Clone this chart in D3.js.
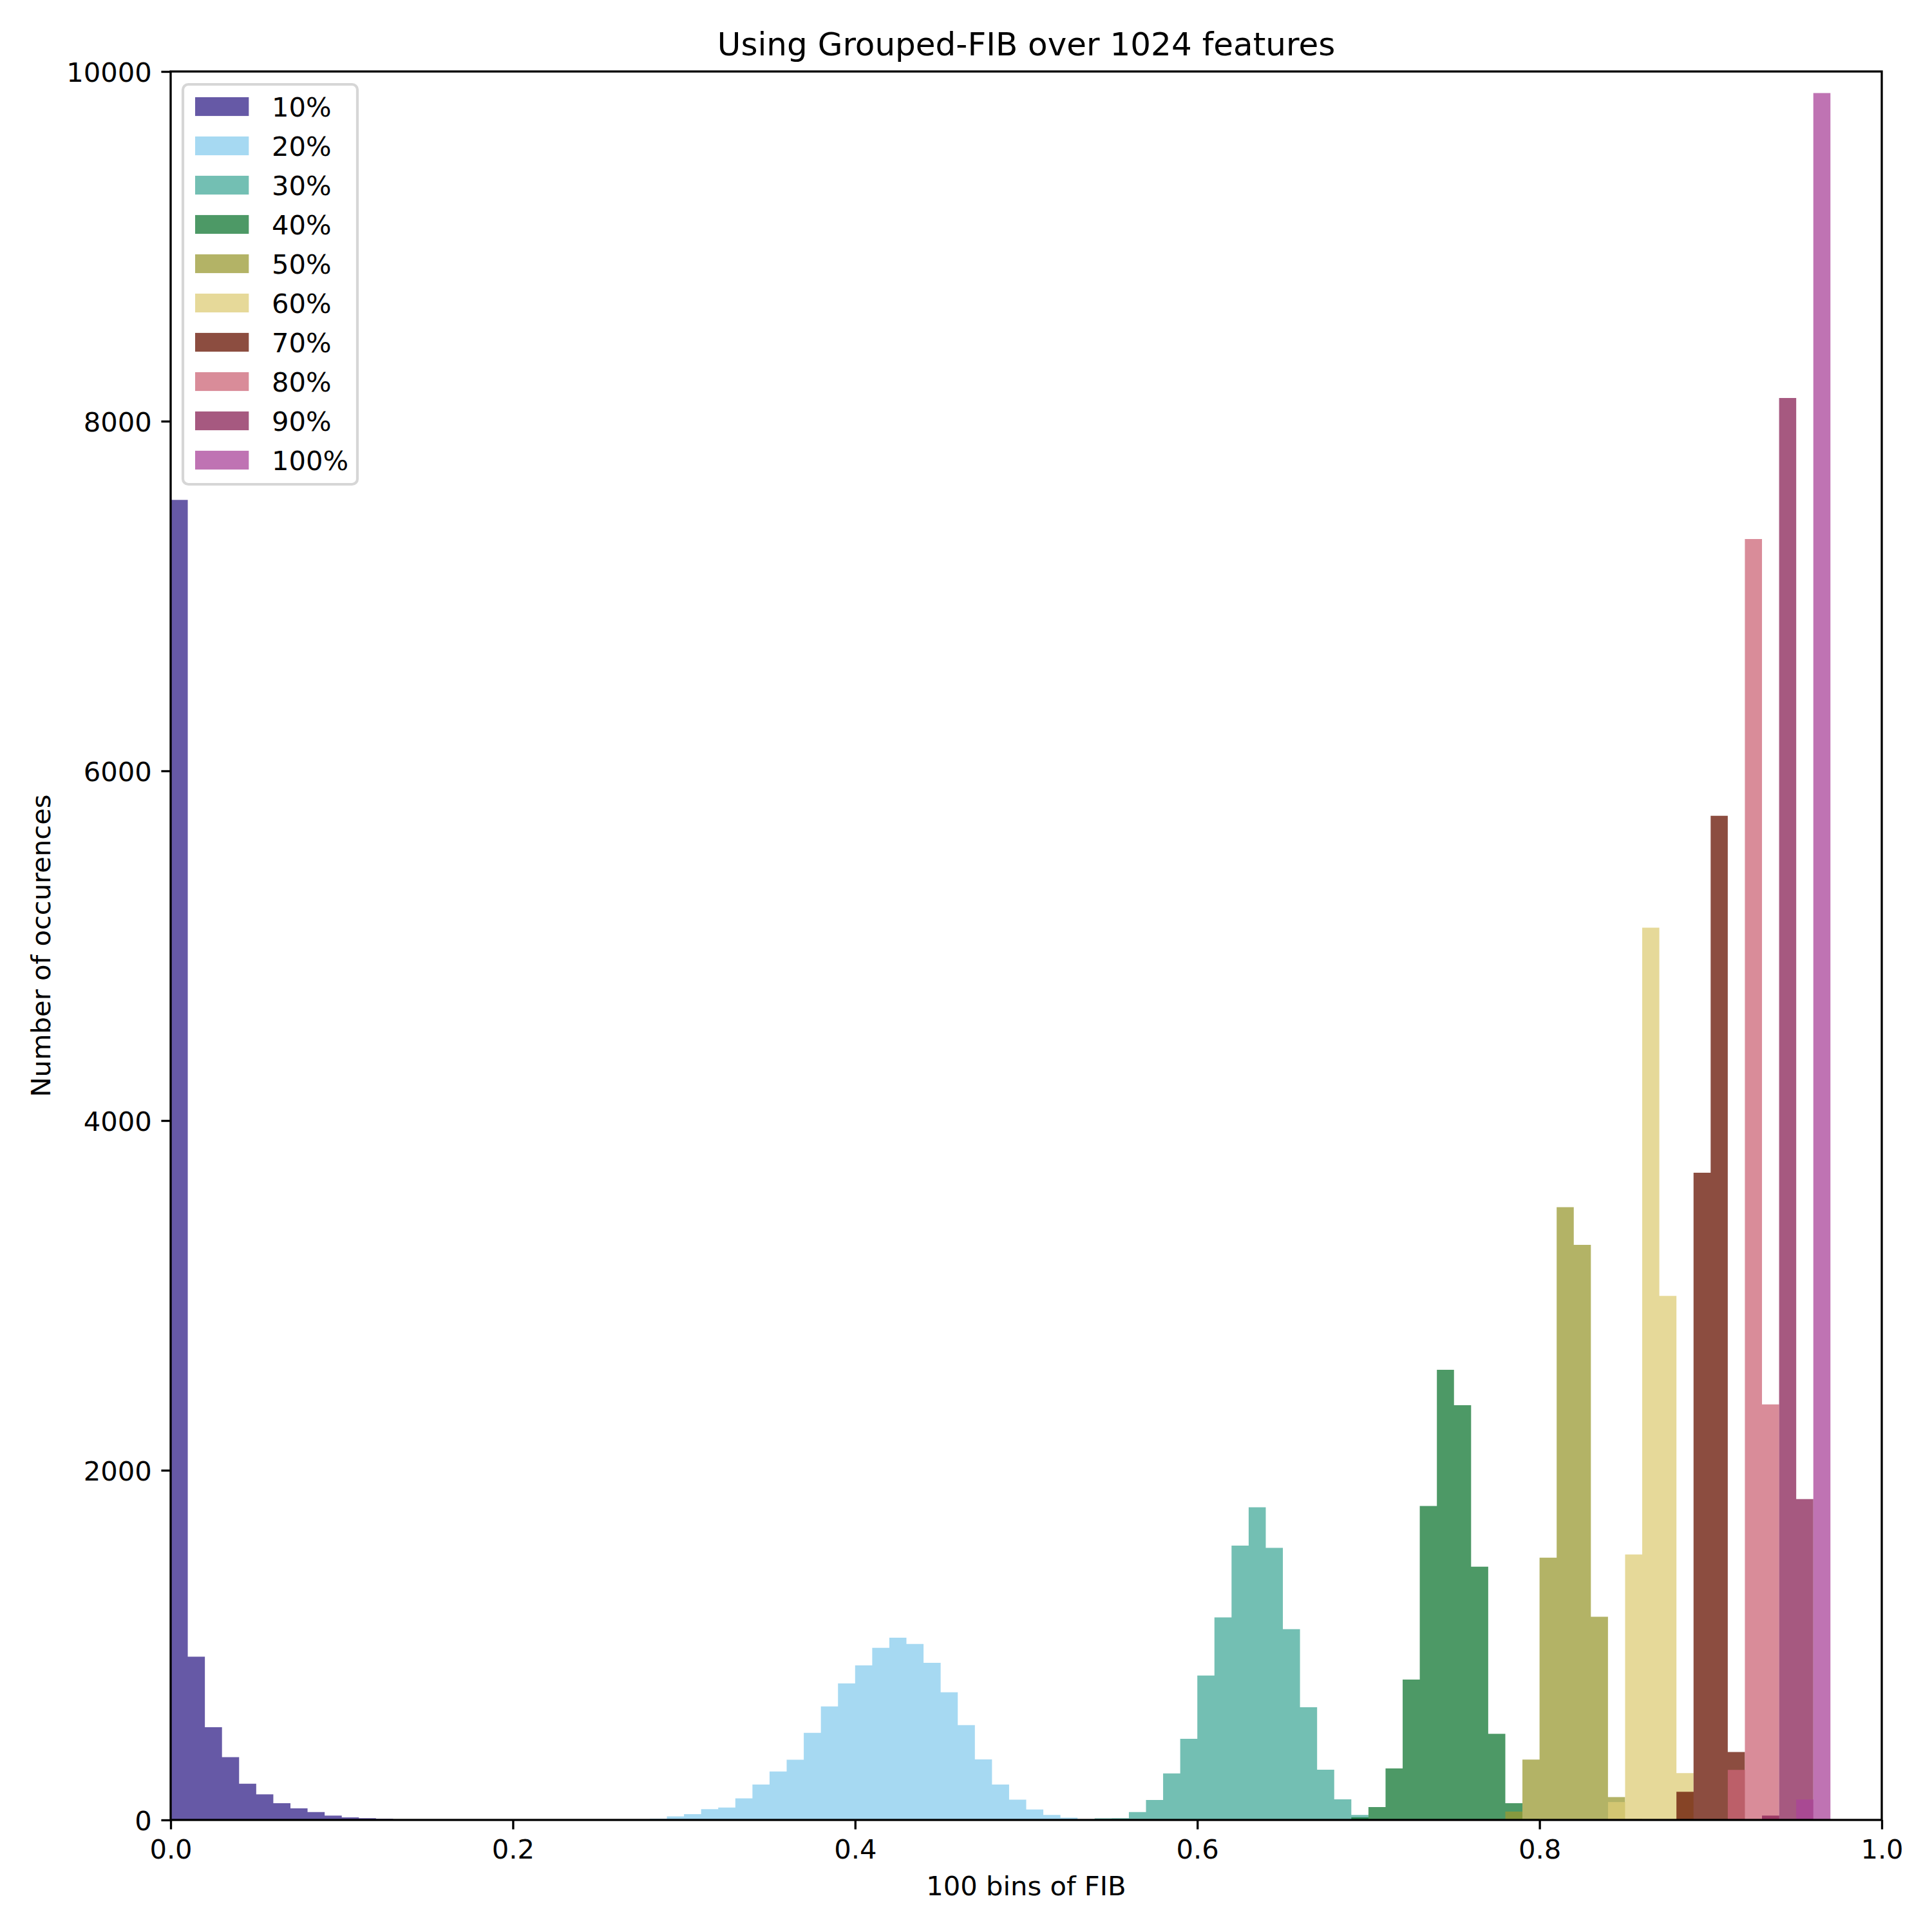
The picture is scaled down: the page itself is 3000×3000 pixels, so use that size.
<!DOCTYPE html>
<html>
<head>
<meta charset="utf-8">
<script src="https://cdn.jsdelivr.net/npm/d3@7"></script>
<style>
  html, body { margin: 0; padding: 0; background: #ffffff; }
  svg { display: block; }
  text { font-family: "DejaVu Sans", sans-serif; fill: #000; }
</style>
</head>
<body>
<svg id="chart" width="3000" height="3000"></svg>
<script>
// ---------------- DATA ----------------
const titleText = "Using Grouped-FIB over 1024 features";
const xLabelText = "100 bins of FIB";
const yLabelText = "Number of occurences";

const seriesLabels = ["10%", "20%", "30%", "40%", "50%", "60%", "70%", "80%", "90%", "100%"];
const seriesColors = ["#332288", "#88CCEE", "#44AA99", "#117733", "#999933",
                      "#DDCC77", "#661100", "#CC6677", "#882255", "#AA4499"];

// first bin (left edge) of each series' non-empty run of 0.01-wide bins
const seriesStarts = [0.00, 0.28, 0.54, 0.69, 0.77, 0.84, 0.88, 0.91, 0.93, 0.95];

const counts10 = [7550, 934, 530, 359, 207, 146, 96, 66, 45, 25, 15, 10, 6, 4];
const counts20 = [7, 20, 33, 62, 71, 123, 203, 277, 344, 498, 649, 781, 884, 984,
                  1042, 1006, 899, 730, 542, 346, 203, 116, 60, 29, 13, 4];
const counts30 = [9, 10, 45, 114, 266, 464, 826, 1158, 1569, 1788, 1556, 1091, 645, 287, 118, 29];
const counts40 = [15, 74, 295, 803, 1796, 2575, 2372, 1448, 493, 96, 6];
const counts50 = [5, 48, 345, 1500, 3505, 3289, 1162, 131, 6];
const counts60 = [102, 1518, 5103, 2997, 268];
const counts70 = [161, 3702, 5743, 389];
const counts80 = [286, 7326, 2377];
const counts90 = [25, 8133, 1835];
const counts100 = [117, 9877];

const seriesCounts = [counts10, counts20, counts30, counts40, counts50,
                      counts60, counts70, counts80, counts90, counts100];

const xTicks = [0, 0.2, 0.4, 0.6, 0.8, 1.0];
const yTicks = [0, 2000, 4000, 6000, 8000, 10000];
const binWidth = 0.01;

// ---------------- LAYOUT ----------------
const W = 3000, H = 3000;
const plotLeft = 265, plotRight = 2922, plotTop = 111, plotBottom = 2826;
const px = 300 / 72;           // points -> pixels at 300 dpi
const fs = 10 * px;            // 10pt
const lw = 0.8 * px;           // axes line width
const tickLen = 3.5 * px;
const tickPad = 3.5 * px;
const barAlpha = 0.75;

const svg = d3.select("#chart");
svg.append("rect").attr("width", W).attr("height", H).attr("fill", "#ffffff");

const x = d3.scaleLinear().domain([0, 1]).range([plotLeft, plotRight]);
const y = d3.scaleLinear().domain([0, 10000]).range([plotBottom, plotTop]);

// ---------------- BARS (one path per series, one rectangle per bin) ----------------
const seriesData = seriesCounts.map((counts, si) => {
  const startBin = Math.round(seriesStarts[si] / binWidth);
  return {
    color: seriesColors[si],
    bins: counts.map((c, i) => ({
      x0: (startBin + i) * binWidth,
      x1: (startBin + i + 1) * binWidth,
      v: c
    }))
  };
});

function binsPath(bins) {
  const p = d3.path();
  bins.forEach(b => {
    p.rect(x(b.x0), y(b.v), x(b.x1) - x(b.x0), y(0) - y(b.v));
  });
  return p.toString();
}

svg.append("g")
  .selectAll("path")
  .data(seriesData)
  .join("path")
  .attr("d", d => binsPath(d.bins))
  .attr("fill", d => d.color)
  .attr("fill-opacity", barAlpha)
  .attr("fill-rule", "nonzero");

// ---------------- AXES ----------------
const xAxis = d3.axisBottom(x)
  .tickValues(xTicks)
  .tickFormat(d3.format(".1f"))
  .tickSize(tickLen)
  .tickSizeOuter(0)
  .tickPadding(tickPad);
const xg = svg.append("g").attr("transform", `translate(0,${plotBottom})`).call(xAxis);
xg.select(".domain").remove();
xg.selectAll(".tick line").attr("stroke", "#000").attr("stroke-width", lw);
xg.selectAll(".tick text")
  .attr("font-family", "DejaVu Sans")
  .attr("font-size", fs)
  .attr("fill", "#000")
  .attr("dy", null)
  .attr("y", tickLen + tickPad + 0.729 * fs);

const yAxis = d3.axisLeft(y)
  .tickValues(yTicks)
  .tickFormat(d3.format("d"))
  .tickSize(tickLen)
  .tickSizeOuter(0)
  .tickPadding(tickPad);
const yg = svg.append("g").attr("transform", `translate(${plotLeft},0)`).call(yAxis);
yg.select(".domain").remove();
yg.selectAll(".tick line").attr("stroke", "#000").attr("stroke-width", lw);
yg.selectAll(".tick text")
  .attr("font-family", "DejaVu Sans")
  .attr("font-size", fs)
  .attr("fill", "#000")
  .attr("dy", null)
  .attr("y", 0.364 * fs);

// spines
svg.append("rect")
  .attr("x", plotLeft).attr("y", plotTop)
  .attr("width", plotRight - plotLeft).attr("height", plotBottom - plotTop)
  .attr("fill", "none").attr("stroke", "#000").attr("stroke-width", lw);

// ---------------- TEXTS ----------------
svg.append("text")
  .attr("x", (plotLeft + plotRight) / 2).attr("y", plotTop - 6 * px)
  .attr("text-anchor", "middle")
  .attr("font-size", 12 * px)
  .text(titleText);

svg.append("text")
  .attr("x", (plotLeft + plotRight) / 2).attr("y", 2943)
  .attr("text-anchor", "middle")
  .attr("font-size", fs)
  .text(xLabelText);

svg.append("text")
  .attr("transform", `translate(78,${(plotTop + plotBottom) / 2}) rotate(-90)`)
  .attr("text-anchor", "middle")
  .attr("font-size", fs)
  .text(yLabelText);

// ---------------- LEGEND ----------------
const legX = 284, legY = 131, legW = 271, legH = 621;
const legG = svg.append("g");
legG.append("rect")
  .attr("x", legX).attr("y", legY)
  .attr("width", legW).attr("height", legH)
  .attr("rx", 0.2 * fs).attr("ry", 0.2 * fs)
  .attr("fill", "#ffffff").attr("fill-opacity", 0.8)
  .attr("stroke", "#cccccc").attr("stroke-opacity", 0.8)
  .attr("stroke-width", 1 * px);

const rowStart = 165.5, rowStep = 61.0;
const item = legG.selectAll("g.item")
  .data(seriesLabels)
  .join("g")
  .attr("class", "item")
  .attr("transform", (d, i) => `translate(0,${rowStart + i * rowStep})`);
item.append("rect")
  .attr("x", 303).attr("y", -0.35 * fs)
  .attr("width", 2 * fs).attr("height", 0.7 * fs)
  .attr("fill", (d, i) => seriesColors[i])
  .attr("fill-opacity", barAlpha);
item.append("text")
  .attr("x", 422).attr("y", 0.364 * fs)
  .attr("font-size", fs)
  .text(d => d);
</script>
</body>
</html>
